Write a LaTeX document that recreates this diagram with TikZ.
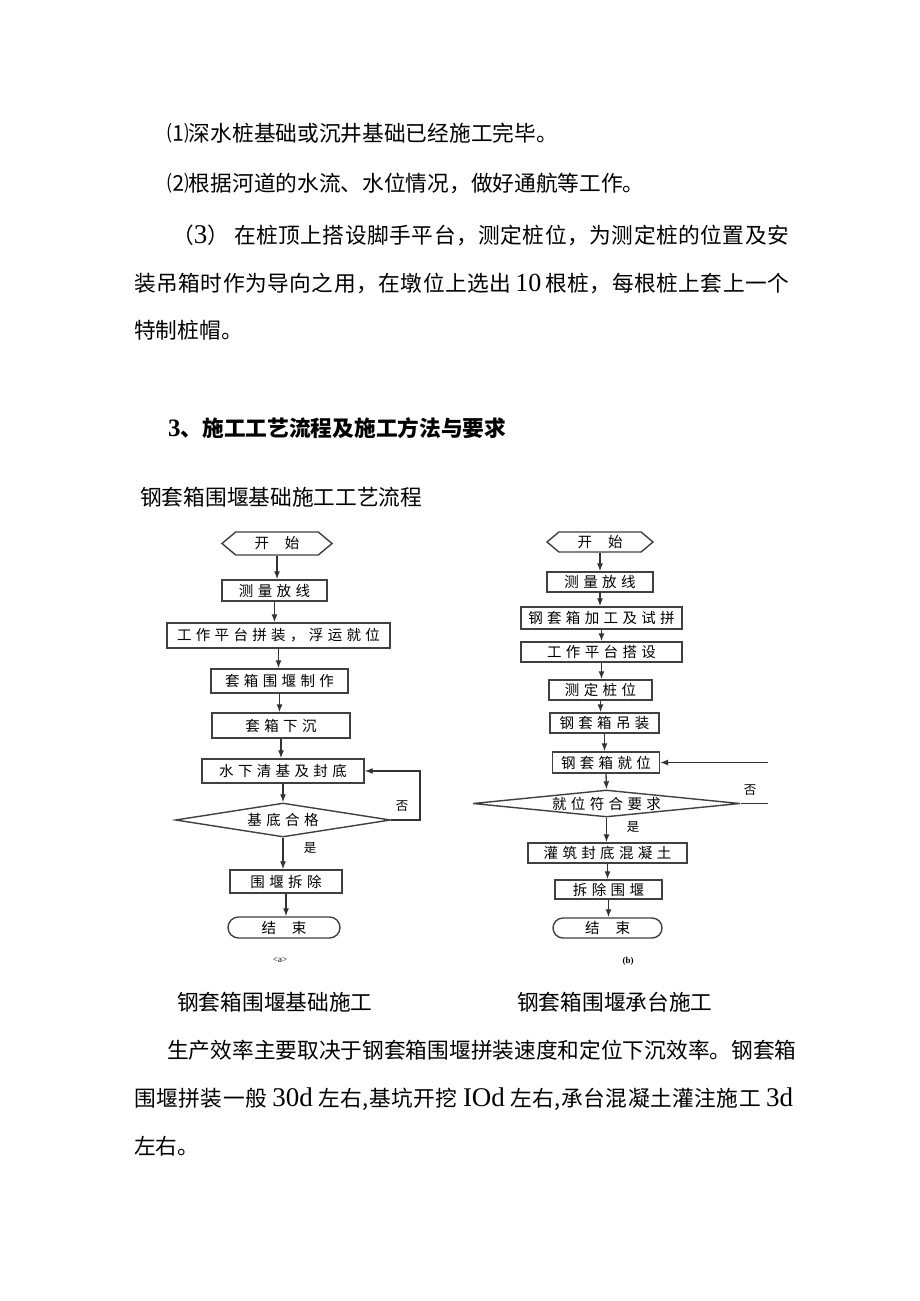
\documentclass[tikz,border=0pt]{standalone}
\usepackage{fontspec}
\setmainfont{Noto Sans CJK SC}
\newfontfamily\flowfont[LetterSpace=30]{Noto Sans CJK SC}
\newfontfamily\serifnum{Liberation Serif}
\usetikzlibrary{positioning,arrows.meta,shapes.geometric,shapes.misc,shapes.symbols}
\newcommand{\bodysize}{\fontsize{21.7pt}{26pt}\selectfont}
\newcommand{\bignum}[1]{{\serifnum\fontsize{27pt}{28pt}\selectfont #1}}

\begin{document}
\begin{tikzpicture}[
    x=1pt, y=-1pt,
    bodyText/.style={anchor=base west, inner sep=0pt, font=\bodysize},
    wideText/.style={bodyText, font=\bodysize\addfontfeature{LetterSpace=2.4}},
    procBox/.style={rectangle, draw=black!75, line width=1.4pt, fill=white, inner sep=0pt, font=\flowfont\fontsize{14.5pt}{16pt}\selectfont},
    startNode/.style={procBox, signal, signal to=east and west, signal pointer angle=80},
    endNode/.style={procBox, rounded rectangle},
    checkNode/.style={procBox, diamond, shape aspect=8},
    tagText/.style={inner sep=0pt, font=\fontsize{12.5pt}{14pt}\selectfont},
    flowLine/.style={line width=1.3pt, draw=black!80},
    arrowFlow/.style={flowLine, -{Latex[length=8pt,width=6pt]}}
]
    \fill[white] (0,0) rectangle (920,1301);
    \useasboundingbox (0,0) rectangle (920,1301);

    \node[bodyText] (itemA) at (167,141) {⑴深水桩基础或沉井基础已经施工完毕。};
    \node[bodyText] (itemB) at (167,191) {⑵根据河道的水流、水位情况，做好通航等工作。};
    \node[wideText] (itemC) at (172,243) {（\bignum{3}）\hspace{5pt}在桩顶上搭设脚手平台，测定桩位，为测定桩的位置及安};
    \node[wideText] (itemD) at (134,291) {装吊箱时作为导向之用，在墩位上选出\hspace{4pt}{\serifnum\fontsize{26pt}{28pt}\selectfont 10}\hspace{4pt}根桩，每根桩上套上一个};
    \node[bodyText] (itemE) at (134,338) {特制桩帽。};

    \node[bodyText, font=\bodysize\bfseries] (heading) at (168,436) {{\serifnum\fontsize{25pt}{28pt}\selectfont 3}、施工工艺流程及施工方法与要求};
    \node[bodyText] (subtitle) at (140,505) {钢套箱围堰基础施工工艺流程};

    % flow (a)
    \node[startNode, minimum width=110, minimum height=23] (startA) at (277,543.5) {开\hspace{16pt}始};
    \node[procBox, minimum width=105, minimum height=21] (measA) at (274.5,590.5) {测量放线};
    \node[procBox, minimum width=223, minimum height=25] (platA) at (278.5,635.5) {工作平台拼装，浮运就位};
    \node[procBox, minimum width=137, minimum height=24] (makeA) at (279.5,681) {套箱围堰制作};
    \node[procBox, minimum width=138, minimum height=25] (sinkA) at (281,725.5) {套箱下沉};
    \node[procBox, minimum width=162, minimum height=24] (cleanA) at (283,771) {水下清基及封底};
    \node[checkNode, minimum width=215, minimum height=34] (checkA) at (283,820) {基底合格};
    \node[procBox, minimum width=112, minimum height=23] (removeA) at (286,881.5) {围堰拆除};
    \node[endNode, minimum width=112, minimum height=21] (endA) at (284,927.5) {结\hspace{16pt}束};
    \coordinate (loopA) at (420,820);

    \draw[arrowFlow] (startA.south) -- (startA.south |- measA.north);
    \draw[arrowFlow] (measA.south) -- (measA.south |- platA.north);
    \draw[arrowFlow] (platA.south) -- (platA.south |- makeA.north);
    \draw[arrowFlow] (makeA.south) -- (makeA.south |- sinkA.north);
    \draw[arrowFlow] (sinkA.south) -- (sinkA.south |- cleanA.north);
    \draw[arrowFlow] (cleanA.south) -- (checkA.north);
    \draw[arrowFlow] (checkA.south) -- (checkA.south |- removeA.north);
    \draw[arrowFlow] (removeA.south) -- (removeA.south |- endA.north);
    \draw[arrowFlow] (checkA.east) -- (loopA) |- (cleanA.east);
    \node[tagText] (noA) at (402,806) {否};
    \node[tagText] (yesA) at (310,848) {是};
    \node[tagText, font=\serifnum\fontsize{9pt}{10pt}\selectfont] (capA) at (280,960) {<a>};

    % flow (b)
    \node[startNode, minimum width=106, minimum height=20] (startB) at (600,542) {开\hspace{16pt}始};
    \node[procBox, minimum width=106, minimum height=20] (measB) at (600,582) {测量放线};
    \node[procBox, minimum width=161, minimum height=22] (makeB) at (601.5,618) {钢套箱加工及试拼};
    \node[procBox, minimum width=161, minimum height=20] (platB) at (601.5,652) {工作平台搭设};
    \node[procBox, minimum width=103, minimum height=20] (pileB) at (600.5,690) {测定桩位};
    \node[procBox, minimum width=109, minimum height=20] (liftB) at (604.5,723) {钢套箱吊装};
    \node[procBox, minimum width=107, minimum height=21] (placeB) at (606,762.5) {钢套箱就位};
    \node[checkNode, shape aspect=10, minimum width=267, minimum height=27] (checkB) at (606.5,803.5) {就位符合要求};
    \node[procBox, minimum width=159, minimum height=20] (pourB) at (607.5,853) {灌筑封底混凝土};
    \node[procBox, minimum width=107, minimum height=19] (removeB) at (608.5,889.5) {拆除围堰};
    \node[endNode, minimum width=109, minimum height=20] (endB) at (607.5,928) {结\hspace{16pt}束};
    \coordinate (edgeB) at (768,762.5);

    \draw[arrowFlow] (startB.south) -- (startB.south |- measB.north);
    \draw[arrowFlow] (measB.south) -- (measB.south |- makeB.north);
    \draw[arrowFlow] (makeB.south) -- (makeB.south |- platB.north);
    \draw[arrowFlow] (platB.south) -- (platB.south |- pileB.north);
    \draw[arrowFlow] (pileB.south) -- (pileB.south |- liftB.north);
    \draw[arrowFlow] (liftB.south) -- (liftB.south |- placeB.north);
    \draw[arrowFlow] (placeB.south) -- (checkB.north);
    \draw[arrowFlow] (checkB.south) -- (checkB.south |- pourB.north);
    \draw[arrowFlow] (pourB.south) -- (pourB.south |- removeB.north);
    \draw[arrowFlow] (removeB.south) -- (removeB.south |- endB.north);
    \draw[flowLine] (checkB.east) -- (checkB.east -| edgeB);
    \draw[arrowFlow] (edgeB) -- (placeB.east);
    \node[tagText] (noB) at (750,790) {否};
    \node[tagText] (yesB) at (633,827) {是};
    \node[tagText, font=\serifnum\bfseries\fontsize{9pt}{10pt}\selectfont] (capB) at (628,961) {(b)};

    \node[bodyText] (titleA) at (177,1010) {钢套箱围堰基础施工};
    \node[bodyText] (titleB) at (517,1010) {钢套箱围堰承台施工};

    \node[bodyText] (paraA) at (167,1058) {生产效率主要取决于钢套箱围堰拼装速度和定位下沉效率。钢套箱};
    \node[wideText] (paraB) at (134,1106) {围堰拼装一般 \bignum{30d} 左右,基坑开挖 \bignum{IOd} 左右,承台混凝土灌注施工 \bignum{3d}};
    \node[bodyText] (paraC) at (134,1154) {左右。};
\end{tikzpicture}
\end{document}
